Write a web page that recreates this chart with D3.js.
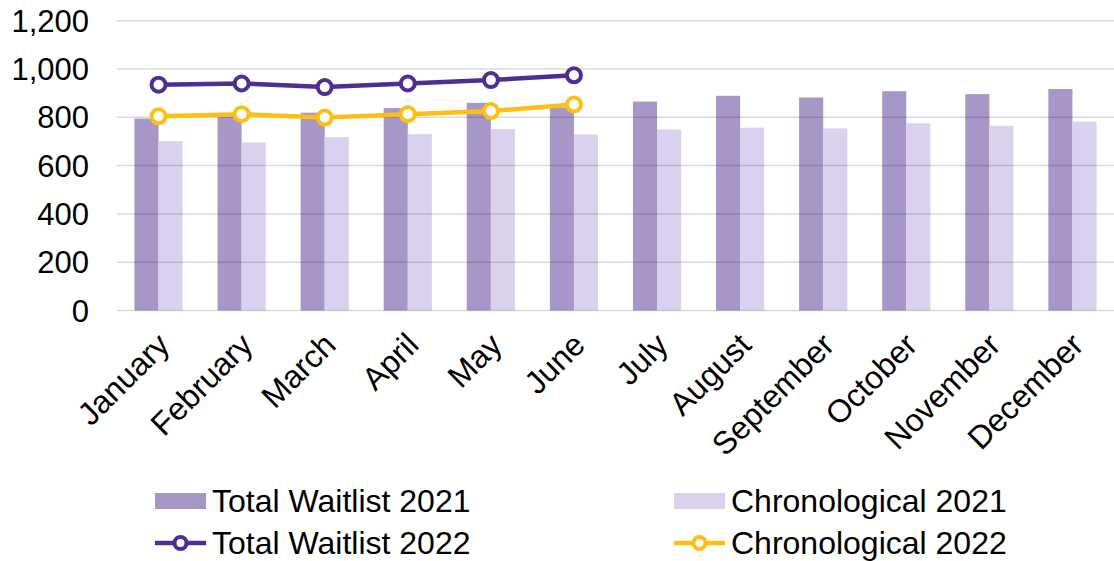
<!DOCTYPE html>
<html>
    <head>
        <meta charset="UTF-8">
        <title>Waitlist</title>
        <style>
            body {margin:0; background:#fff;}
            text {font-family:"Liberation Sans", Arial, sans-serif; fill:#000;}
            .grid line {stroke:rgba(0,0,0,0.15); stroke-width:1.5px;}
        </style>
        <script src="https://cdn.jsdelivr.net/npm/d3@7/dist/d3.min.js"></script>
    </head>
    <body>
        <svg width="1114" height="561"></svg>
        <script>
            var months = ["January","February","March","April","May","June",
                          "July","August","September","October","November","December"];
            var total2021 = [795, 810, 819, 838, 860, 840, 865, 889, 882, 908, 896, 917];
            var chrono2021 = [701, 696, 718, 730, 751, 729, 750, 757, 754, 775, 765, 782];
            var total2022 = [935, 940, 925, 940, 954, 974];
            var chrono2022 = [804, 813, 799, 813, 826, 853];
            var yTicks = [0, 200, 400, 600, 800, 1000, 1200];

            var svg = d3.select("svg");
            var x = d3.scaleBand().domain(months).range([117, 1114]);
            var y = d3.scaleLinear().domain([0, 1200]).range([310.5, 20.7]);
            var bw = x.bandwidth() * 0.29;
            var fmt = d3.format(",");

            //... bars
            var bars = svg.append("g");
            bars.selectAll(".t21").data(total2021).enter().append("rect")
                .attr("x", (d,i) => x(months[i]) + x.bandwidth()/2 - bw)
                .attr("y", d => y(d)).attr("width", bw).attr("height", d => y(0) - y(d))
                .attr("fill", "#a797c9");
            bars.selectAll(".c21").data(chrono2021).enter().append("rect")
                .attr("x", (d,i) => x(months[i]) + x.bandwidth()/2)
                .attr("y", d => y(d)).attr("width", bw).attr("height", d => y(0) - y(d))
                .attr("fill", "#d9d1ed");

            //... gridlines over bars
            svg.append("g").attr("class", "grid").selectAll("line").data(yTicks).enter().append("line")
                .attr("x1", 117).attr("x2", 1114)
                .attr("y1", d => y(d)).attr("y2", d => y(d));

            //... y labels
            svg.append("g").selectAll("text").data(yTicks).enter().append("text")
                .attr("x", 89).attr("y", d => y(d)).attr("dy", "0.36em")
                .attr("text-anchor", "end").style("font-size", "31px")
                .text(d => fmt(d));

            //... x labels
            svg.append("g").selectAll("text").data(months).enter().append("text")
                .attr("transform", d => "translate(" + (x(d) + x.bandwidth()/2 - 3) + ",331) rotate(-45)")
                .attr("text-anchor", "end").attr("dy", "0.7em")
                .style("font-size", "32px")
                .text(d => d);

            //... lines
            function drawLine(vals, color)
            {
                var line = d3.line().x((d,i) => x(months[i]) + x.bandwidth()/2).y(d => y(d));
                svg.append("path").datum(vals).attr("d", line)
                    .attr("fill", "none").attr("stroke", color).attr("stroke-width", 4.5);
                svg.append("g").selectAll("circle").data(vals).enter().append("circle")
                    .attr("cx", (d,i) => x(months[i]) + x.bandwidth()/2).attr("cy", d => y(d))
                    .attr("r", 7).attr("fill", "#fff").attr("stroke", color).attr("stroke-width", 4);
            }
            drawLine(chrono2022, "#fdbf13");
            drawLine(total2022, "#4f2d91");

            //... legend
            var legend = [
                {name:"Total Waitlist 2021", type:"bar", color:"#a797c9", lx:155, ly:501},
                {name:"Chronological 2021", type:"bar", color:"#d9d1ed", lx:674, ly:501},
                {name:"Total Waitlist 2022", type:"line", color:"#4f2d91", lx:155, ly:543},
                {name:"Chronological 2022", type:"line", color:"#fdbf13", lx:674, ly:543}
            ];
            var lg = svg.append("g").selectAll("g").data(legend).enter().append("g")
                .attr("transform", d => "translate(" + d.lx + "," + d.ly + ")");
            lg.filter(d => d.type == "bar").append("rect")
                .attr("x", 0).attr("y", -8).attr("width", 51).attr("height", 16)
                .attr("fill", d => d.color);
            lg.filter(d => d.type == "line").append("line")
                .attr("x1", 0).attr("x2", 51).attr("stroke", d => d.color).attr("stroke-width", 4.5);
            lg.filter(d => d.type == "line").append("circle")
                .attr("cx", 25.5).attr("r", 6).attr("fill", "#fff")
                .attr("stroke", d => d.color).attr("stroke-width", 4);
            lg.append("text").attr("x", 57).attr("dy", "0.34em")
                .style("font-size", "32px").text(d => d.name);
        </script>
    </body>
</html>
